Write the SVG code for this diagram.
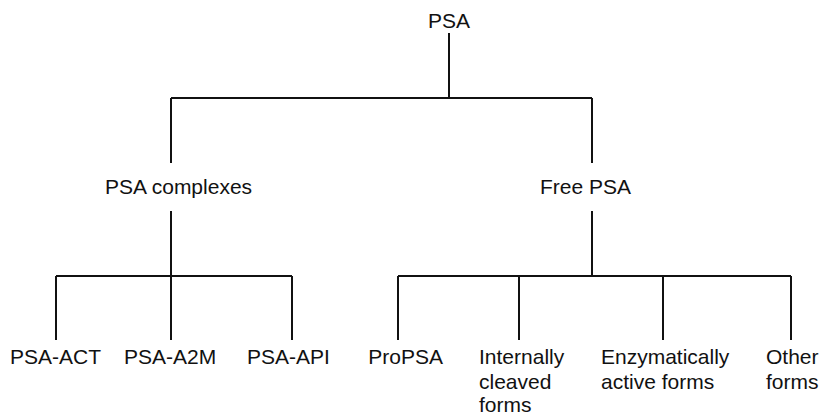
<svg xmlns="http://www.w3.org/2000/svg" width="821" height="417" viewBox="0 0 821 417">
<style>
text{font-family:"Liberation Sans",Arial,sans-serif;font-size:21px;fill:#111}
.c{stroke:#111;stroke-width:2;fill:none}
</style>
<rect width="821" height="417" fill="#fff"/>
<g id="connectors" class="c">
<path d="M449,33V98M171,98H592M171,98V163M592,98V163"/>
<path d="M171,211V276M56,276H292M56,276V340M171,276V340M292,276V340"/>
<path d="M592,211V276M398,276H791M398,276V340M519,276V340M663,276V340M791,276V340"/>
</g>
<g id="psa"><text x="449" y="28" text-anchor="middle">PSA</text></g>
<g id="complexes"><text x="105" y="194">PSA complexes</text></g>
<g id="free"><text x="540" y="194">Free PSA</text></g>
<g id="act"><text x="10" y="364">PSA-ACT</text></g>
<g id="a2m"><text x="124" y="364">PSA-A2M</text></g>
<g id="api"><text x="247" y="364">PSA-API</text></g>
<g id="propsa"><text x="443" y="364" text-anchor="end">ProPSA</text></g>
<g id="internally"><text x="479" y="364">Internally</text><text x="479" y="389">cleaved</text><text x="479" y="412">forms</text></g>
<g id="enzymatically"><text x="601" y="364">Enzymatically</text><text x="601" y="389">active forms</text></g>
<g id="other"><text x="766" y="364">Other</text><text x="766" y="389">forms</text></g>
</svg>
